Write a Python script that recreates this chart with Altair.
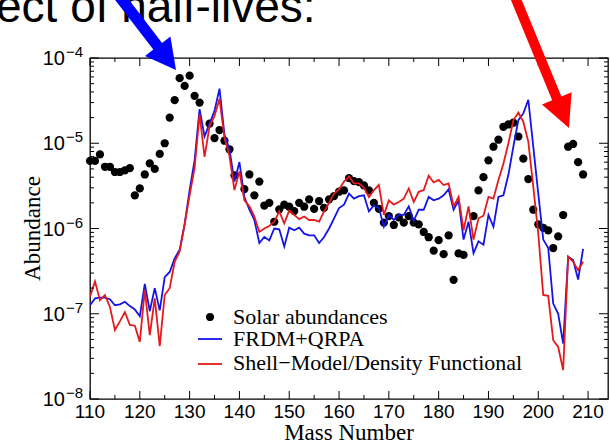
import altair as alt
import numpy as np
import pandas as pd

# Solar r-process abundances
solar_mass = [110, 111, 112, 113, 114, 115, 116, 117, 118, 119, 120, 121, 122, 123, 124,
              125, 126, 127, 128, 129, 130, 131, 132, 134, 135, 136, 137, 138, 139,
              141, 142, 143, 144, 145, 146, 147, 148, 149, 150, 151, 152, 153, 154, 155,
              156, 157, 158, 159, 160, 161, 162, 163, 164, 165, 166, 167, 168, 169, 170,
              171, 172, 173, 174, 175, 176, 177, 178, 179, 180, 181, 182, 183, 184, 185,
              187, 188, 189, 190, 191, 192, 193, 194, 195, 196, 197, 198, 199, 200, 201,
              202, 203, 204, 205, 206, 207, 208, 209]
solar_abund = [6.2e-6, 6.2e-6, 7.4e-6, 5.3e-6, 5.3e-6, 4.6e-6, 4.6e-6, 4.8e-6, 5.1e-6, 2.45e-6,
               2.95e-6, 4.3e-6, 5.8e-6, 5.0e-6, 7.5e-6, 1.0e-5, 2.0e-5, 3.2e-5, 5.8e-5, 4.7e-5,
               6.2e-5, 3.6e-5, 3.0e-5, 1.7e-5, 1.15e-5, 1.43e-5, 1.07e-5, 8.5e-6, 4.2e-6,
               2.9e-6, 4.3e-6, 2.45e-6, 3.55e-6, 1.86e-6, 2.0e-6, 1.2e-6, 1.68e-6, 1.9e-6,
               1.8e-6, 1.6e-6, 2.0e-6, 1.8e-6, 2.2e-6, 1.7e-6, 2.1e-6, 1.75e-6, 2.2e-6, 2.4e-6,
               2.7e-6, 2.8e-6, 3.9e-6, 3.6e-6, 3.5e-6, 3.2e-6, 2.8e-6, 2.0e-6, 1.7e-6, 1.17e-6,
               1.4e-6, 1.1e-6, 1.35e-6, 1.17e-6, 1.4e-6, 1.17e-6, 1.12e-6, 0.91e-6, 0.79e-6,
               0.55e-6, 0.73e-6, 0.5e-6, 0.83e-6, 0.25e-6, 0.51e-6, 0.49e-6,
               1.4e-6, 2.8e-6, 4.0e-6, 6.3e-6, 9.1e-6, 1.1e-5, 1.56e-5, 1.66e-5, 1.74e-5,
               1.2e-5, 6.6e-6, 3.8e-6, 1.66e-6, 1.12e-6, 1.02e-6, 0.95e-6, 0.59e-6, 0.81e-6,
               1.44e-6, 9.1e-6, 9.8e-6, 6.0e-6, 4.3e-6]

# Calculated abundances, mass numbers 110..209 (log10 of abundance)
model_mass = list(range(110, 210))
frdm_log10 = [
    -6.90, -6.82, -6.81, -6.81, -6.83, -6.90, -6.89, -6.86, -6.91, -6.95,
    -7.03, -6.65, -6.97, -6.70, -6.96, -6.57, -6.51, -6.35, -6.25, -5.95,
    -5.55, -5.20, -4.60, -4.92, -4.77, -4.62, -4.36, -4.90, -5.07, -5.45,
    -5.22, -5.63, -5.78, -5.90, -6.17, -6.10, -6.14, -6.00, -6.01, -6.21,
    -5.99, -6.02, -5.99, -6.06, -6.08, -6.08, -6.17, -6.10, -6.00, -5.88,
    -5.76, -5.72, -5.59, -5.65, -5.62, -5.61, -5.80, -5.73, -5.76, -5.98,
    -5.84, -5.90, -5.84, -5.84, -5.74, -5.91, -5.78, -5.78, -5.63, -5.67,
    -5.65, -5.61, -5.54, -5.78, -5.67, -6.13, -5.92, -6.29, -6.15, -6.19,
    -5.84, -5.98, -5.63, -5.61, -5.37, -5.04, -4.73, -4.65, -4.49, -5.04,
    -5.59, -6.13, -6.23, -6.88, -7.00, -7.35, -6.33, -6.37, -6.60, -6.24]
shell_log10 = [
    -6.80, -6.62, -6.84, -6.78, -6.92, -7.19, -7.09, -6.98, -7.13, -7.14,
    -7.33, -6.72, -7.25, -6.82, -7.38, -6.78, -6.70, -6.39, -6.27, -5.95,
    -5.61, -5.29, -4.66, -5.16, -4.80, -4.68, -4.48, -4.94, -5.15, -5.55,
    -5.33, -5.67, -5.74, -5.86, -6.04, -6.00, -5.97, -5.92, -5.80, -5.94,
    -5.79, -5.84, -5.89, -5.86, -5.90, -5.90, -5.92, -5.80, -5.70, -5.59,
    -5.54, -5.45, -5.39, -5.47, -5.47, -5.52, -5.63, -5.55, -5.49, -5.84,
    -5.67, -5.72, -5.69, -5.65, -5.53, -5.69, -5.57, -5.55, -5.38, -5.46,
    -5.43, -5.49, -5.47, -5.74, -5.63, -6.02, -5.74, -6.13, -5.88, -5.85,
    -5.63, -5.65, -5.43, -5.24, -5.00, -4.73, -4.64, -4.75, -4.98, -5.51,
    -6.06, -6.78, -6.79, -7.31, -7.39, -7.66, -6.33, -6.39, -6.49, -6.39]

legend_labels = ["Solar abundances", "FRDM+QRPA", "Shell\u2212Model/Density Functional"]

x_major = list(range(110, 211, 10))
x_minor = list(range(115, 211, 10))
y_decades = [1e-4, 1e-5, 1e-6, 1e-7, 1e-8]
y_exponents = ["\u22124", "\u22125", "\u22126", "\u22127", "\u22128"]
y_minor = [k * 10.0 ** e for e in range(-8, -4) for k in range(2, 10)]

# ---- layout (pixels) ----
W, H = 518, 341
PAD_L, PAD_T = 90, 58
BLUE = "#1414e6"
RED = "#e41a1c"
SERIF = "Liberation Serif"
SANS = "Liberation Sans"

xs = alt.Scale(domain=[110, 214], nice=False, zero=False)
ys = alt.Scale(type="log", domain=[1e-8, 1e-4], nice=False)

solar_df = pd.DataFrame({"A": solar_mass, "Y": solar_abund})
frdm_df = pd.DataFrame({"A": model_mass, "Y": 10.0 ** np.array(frdm_log10)})
shell_df = pd.DataFrame({"A": model_mass, "Y": 10.0 ** np.array(shell_log10)})


def X(field):
    return alt.X(field, scale=xs, axis=None)


def Y(field):
    return alt.Y(field, scale=ys, axis=None)


def one_row():
    return pd.DataFrame({"k": [0]})


dots = alt.Chart(solar_df).mark_circle(size=68, color="black", opacity=1).encode(
    x=X("A:Q"), y=Y("Y:Q"))
frdm = alt.Chart(frdm_df).mark_line(color=BLUE, strokeWidth=1.8, clip=True).encode(
    x=X("A:Q"), y=Y("Y:Q"))
shell = alt.Chart(shell_df).mark_line(color=RED, strokeWidth=1.8, clip=True).encode(
    x=X("A:Q"), y=Y("Y:Q"))

# ---- inward ticks on all four sides ----
def xticks(vals, length):
    d = pd.DataFrame({"v": vals})
    bot = alt.Chart(d).mark_rule(color="black", strokeWidth=1).encode(
        x=X("v:Q"), y=alt.value(H - length), y2=alt.value(H))
    top = alt.Chart(d).mark_rule(color="black", strokeWidth=1).encode(
        x=X("v:Q"), y=alt.value(0), y2=alt.value(length))
    return [bot, top]


def yticks(vals, length):
    d = pd.DataFrame({"v": vals})
    left = alt.Chart(d).mark_rule(color="black", strokeWidth=1).encode(
        y=Y("v:Q"), x=alt.value(0), x2=alt.value(length))
    right = alt.Chart(d).mark_rule(color="black", strokeWidth=1).encode(
        y=Y("v:Q"), x=alt.value(W - length), x2=alt.value(W))
    return [left, right]


ticks = xticks(x_major, 8) + xticks(x_minor, 4) + yticks(y_decades, 9) + yticks(y_minor, 4)

# ---- tick labels ----
xlab = alt.Chart(pd.DataFrame({"v": x_major})).mark_text(
    font=SANS, fontSize=19, align="center", baseline="top", dy=4, color="black").encode(
    x=X("v:Q"), y=alt.value(H), text=alt.Text("v:Q", format="d"))

ylab_df = pd.DataFrame({"v": y_decades, "e": y_exponents, "b": ["10"] * len(y_decades)})
ylab_base = alt.Chart(ylab_df).mark_text(font=SANS, fontSize=20, align="right",
                                         baseline="alphabetic", dy=7, color="black").encode(
    y=Y("v:Q"), x=alt.value(-25), text="b:N")
ylab_exp = alt.Chart(ylab_df).mark_text(font=SANS, fontSize=15, align="left",
                                        baseline="alphabetic", dy=-1, color="black").encode(
    y=Y("v:Q"), x=alt.value(-24), text="e:N")

# ---- axis titles ----
xtitle = alt.Chart(pd.DataFrame({"t": ["Mass Number"]})).mark_text(
    font=SERIF, fontSize=23, align="center", baseline="alphabetic", color="black").encode(
    x=alt.value(W / 2), y=alt.value(H + 41), text="t:N")
ytitle = alt.Chart(pd.DataFrame({"t": ["Abundance"]})).mark_text(
    font=SERIF, fontSize=23, align="center", baseline="middle", angle=270, color="black").encode(
    x=alt.value(-57), y=alt.value(H / 2), text="t:N")

# ---- legend ----
leg_dot = alt.Chart(one_row()).mark_circle(size=68, color="black", opacity=1).encode(
    x=alt.value(120), y=alt.value(259))
leg_blue = alt.Chart(one_row()).mark_rule(color=BLUE, strokeWidth=1.8).encode(
    x=alt.value(108), x2=alt.value(132), y=alt.value(281))
leg_red = alt.Chart(one_row()).mark_rule(color=RED, strokeWidth=1.8).encode(
    x=alt.value(108), x2=alt.value(132), y=alt.value(306))
leg_texts = [
    alt.Chart(pd.DataFrame({"t": [label]})).mark_text(
        font=SERIF, fontSize=22, align="left", baseline="middle", color="black").encode(
        x=alt.value(143), y=alt.value(ypos), text="t:N")
    for label, ypos in zip(legend_labels, [259, 281, 305])
]

# ---- heading fragment and arrows ----
heading = alt.Chart(pd.DataFrame({"t": ["ect of half-lives:"]})).mark_text(
    font=SANS, fontSize=46, align="left", baseline="alphabetic", color="black").encode(
    x=alt.value(-PAD_L - 4), y=alt.value(22 - PAD_T), text="t:N")


def arrow_path(tail, tip, shaft_w, head_w, head_len):
    """Filled arrow outline in pixel units, relative to the tip."""
    tx, ty = tail[0] - tip[0], tail[1] - tip[1]
    L = (tx ** 2 + ty ** 2) ** 0.5
    ux, uy = -tx / L, -ty / L
    nx, ny = -uy, ux
    bx, by = -ux * head_len, -uy * head_len
    pts = [
        (tx + nx * shaft_w / 2, ty + ny * shaft_w / 2),
        (bx + nx * shaft_w / 2, by + ny * shaft_w / 2),
        (bx + nx * head_w / 2, by + ny * head_w / 2),
        (0, 0),
        (bx - nx * head_w / 2, by - ny * head_w / 2),
        (bx - nx * shaft_w / 2, by - ny * shaft_w / 2),
        (tx - nx * shaft_w / 2, ty - ny * shaft_w / 2),
    ]
    return "M" + "L".join(f"{px:.1f},{py:.1f}" for px, py in pts) + "Z"


def arrow(tail, tip, color, shaft_w, head_w, head_len):
    return alt.Chart(one_row()).mark_point(
        shape=arrow_path(tail, tip, shaft_w, head_w, head_len), size=4,
        filled=True, color=color, opacity=1, strokeWidth=0).encode(
        x=alt.value(tip[0] - PAD_L), y=alt.value(tip[1] - PAD_T))


blue_arrow = arrow((116, -8), (176, 70), "#0000ff", 11, 32, 30)
red_arrow = arrow((513, -8), (569, 128), "#ff0000", 10, 32, 32)

chart = alt.layer(
    dots, frdm, shell, *ticks, xlab, ylab_base, ylab_exp, xtitle, ytitle,
    leg_dot, leg_blue, leg_red, *leg_texts, heading, blue_arrow, red_arrow,
).properties(
    width=W, height=H,
    padding={"left": PAD_L, "top": PAD_T, "right": 3, "bottom": 45},
    autosize=alt.AutoSizeParams(type="none"),
    background="white",
).configure_view(stroke="black", strokeWidth=1.3)

chart.save("out.html", embed_options={"renderer": "svg", "actions": False})
